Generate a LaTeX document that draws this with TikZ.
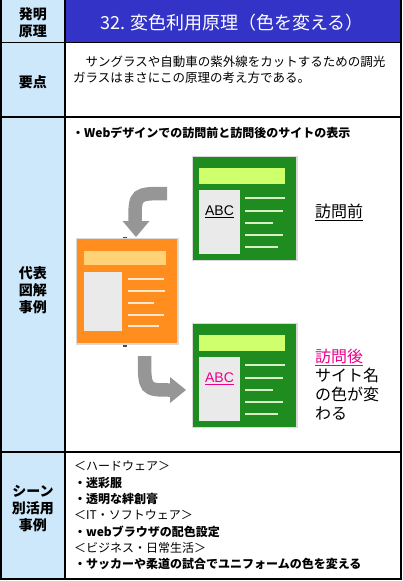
\documentclass[tikz,border=0pt]{standalone}
\usepackage{fontspec}
\setmainfont{Noto Sans CJK JP}
\newfontfamily\arial{Liberation Sans}
\usepackage{tikz}

\definecolor{cellblue}{RGB}{204,232,250}
\definecolor{headblue}{RGB}{51,51,200}
\definecolor{pagegreen}{RGB}{30,140,30}
\definecolor{bargreen}{RGB}{208,255,110}
\definecolor{panelgray}{RGB}{234,234,234}
\definecolor{linegreen}{RGB}{215,240,200}
\definecolor{pageorange}{RGB}{255,142,30}
\definecolor{barorange}{RGB}{255,210,120}
\definecolor{lineorange}{RGB}{255,232,205}
\definecolor{arrowgray}{RGB}{150,150,150}

\tikzset{
  rowlabel/.style={font=\bfseries\fontsize{14}{17}\selectfont, align=center, inner sep=0pt},
  bodytext/.style={font=\fontsize{12.5}{16}\selectfont, align=left, anchor=north west, inner sep=0pt},
  grid/.style={line width=1.3pt},
  turnarrow/.style={draw=arrowgray, line width=13.5pt}
}

\begin{document}
\begin{tikzpicture}[x=1pt,y=-1pt]
\useasboundingbox (0,0) rectangle (402,581);

% table
\fill[cellblue] (1,0) rectangle (65,579);
\fill[headblue] (65,0) rectangle (401,42.5);
\draw[grid] (1,0) -- (1,579) -- (401,579) -- (401,0);
\draw[grid] (65,0) -- (65,579);
\foreach \y in {42.5,117,452}{
\draw[grid] (1,\y) -- (401,\y);
}

\node[rowlabel] (hdlabel) at (33,23) {発明\\原理};
\node[font=\fontsize{18}{20}\selectfont, text=white, inner sep=0pt] (title) at (232,23) {32. 変色利用原理（色を変える）};

\node[rowlabel] (keylabel) at (33,82) {要点};
\node[bodytext] (summary) at (73,55.5) {　サングラスや自動車の紫外線をカットするための調光\\ガラスはまさにこの原理の考え方である。};

\node[rowlabel] (caselabel) at (33,290) {代表\\図解\\事例};
\node[bodytext, font=\bfseries\fontsize{12}{15}\selectfont] (webhead) at (72,126.5) {・Webデザインでの訪問前と訪問後のサイトの表示};

% orange page
\fill[gray!30] (75.5,237.5) rectangle (178.5,344.5);
\fill[pageorange] (77,239) rectangle (177,343);
\fill[barorange] (84,251) rectangle (166,265);
\fill[panelgray] (84,272) rectangle (122,331);
\foreach \y/\e in {279/164, 291/165, 303/154, 315/164, 326/159}{
\draw[lineorange, line width=1.8pt] (128,\y) -- (\e,\y);
}
\fill[gray!60!black] (123,236.5) rectangle (127,238);
\fill[gray!60!black] (123,345) rectangle (127,346.5);

% green pages
\foreach \t/\c/\i in {157/black/A, 324/magenta/B}{
\fill[gray!30] (192,\t-1) rectangle (297.5,\t+104);
\fill[pagegreen] (193,\t) rectangle (296,\t+103);
\fill[bargreen] (199,\t+11) rectangle (285,\t+27);
\fill[panelgray] (199,\t+33) rectangle (240,\t+97);
\foreach \y/\e in {41/285, 54/283, 66/273, 78/283, 90/278}{
\draw[linegreen, line width=1.8pt] (245,\t+\y) -- (\e,\t+\y);
}
\node[font=\arial\fontsize{14}{16}\selectfont, text=\c, inner sep=0pt] (abc\i) at (219.5,\t+55) {\underline{ABC}};
}

% arrows
\coordinate (tailA) at (167,193.5);
\coordinate (bendA) at (135,222);
\coordinate (tipA) at (136,237);
\draw[turnarrow] (tailA) .. controls (135,193.5) .. (bendA);
\fill[arrowgray] (122.5,221) -- (149.5,221) -- (tipA) -- cycle;

\coordinate (tailB) at (144.5,356);
\coordinate (bendB) at (171,390);
\coordinate (tipB) at (186,390);
\draw[turnarrow] (tailB) .. controls (144.5,390) .. (bendB);
\fill[arrowgray] (170,377) -- (170,403) -- (tipB) -- cycle;

\node[font=\fontsize{16}{19}\selectfont, inner sep=0pt] (before) at (339,212) {\underline{訪問前}};
\node[bodytext, font=\fontsize{16}{19}\selectfont] (after) at (315,349) {\textcolor{magenta}{\underline{訪問後}}\\サイト名\\の色が変\\わる};

% scenes
\node[rowlabel] (scenelabel) at (33,509) {シーン\\別活用\\事例};
\node[bodytext, font=\fontsize{12}{16.3}\selectfont] (scenes) at (74,461) {＜ハードウェア＞\\\textbf{・迷彩服}\\\textbf{・透明な絆創膏}\\＜IT・ソフトウェア＞\\\textbf{・webブラウザの配色設定}\\＜ビジネス・日常生活＞\\\textbf{・サッカーや柔道の試合でユニフォームの色を変える}};

\end{tikzpicture}
\end{document}
